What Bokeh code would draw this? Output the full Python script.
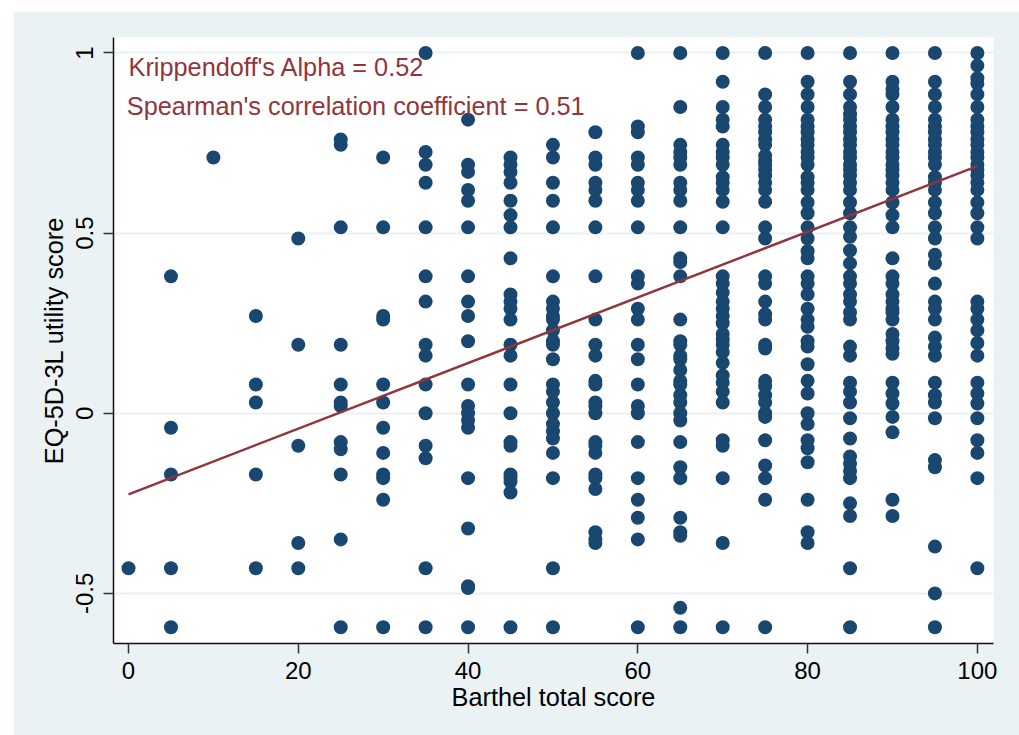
from bokeh.plotting import figure
from bokeh.models import FixedTicker
from bokeh.core.properties import value
from bokeh.embed import file_html
from bokeh.resources import INLINE

y_at_0 = [-.43]
y_at_5 = [.38, -.04, -.17, -.43, -.594]
y_at_10 = [.71]
y_at_15 = [.27, .08, .03, -.17, -.43]
y_at_20 = [.485, .19, -.09, -.36, -.43]
y_at_25 = [.76, .745, .516, .19, .08, .03, .02, -.08, -.10, -.17, -.35, -.594]
y_at_30 = [.71, .516, .27, .26, .08, .03, -.04, -.11, -.17, -.18, -.24, -.594]
y_at_35 = [1, .725, .69, .64, .516, .38, .31, .19, .16, .08, .0, -.09, -.125, -.43, -.594]
y_at_40 = [.815, .69, .67, .62, .59, .516, .38, .31, .27, .2, .08, .02, 0, -.02, -.04, -.18, -.32, -.48, -.485, -.594]
y_at_45 = [.71, .69, .67, .64, .59, .55, .516, .43, .33, .31, .29, .26, .19, .16, .08, 0, -.08, -.09, -.17, -.18, -.19, -.22, -.594]
y_at_50 = [.745, .71, .64, .59, .516, .38, .31, .29, .27, .26, .23, .2, .19, .15, .08, .06, .03, 0, -.03, -.05, -.07, -.11, -.18, -.43, -.594]
y_at_55 = [.78, .71, .69, .64, .62, .59, .516, .38, .26, .19, .16, .09, .08, .03, .02, 0, -.08, -.09, -.11, -.17, -.18, -.21, -.33, -.35, -.36]
y_at_60 = [1, .796, .78, .71, .69, .64, .62, .59, .516, .38, .36, .29, .26, .19, .15, .08, .02, 0, -.08, -.18, -.24, -.29, -.35, -.594]
y_at_65 = [1, .85, .745, .725, .71, .69, .64, .62, .59, .516, .43, .42, .38, .26, .2, .19, .16, .15, .12, .09, .08, .05, .03, 0, -.02, -.08, -.15, -.18, -.29, -.33, -.34, -.54, -.594]
y_at_70 = [1, .92, .85, .815, .796, .745, .725, .71, .69, .655, .64, .62, .587, .516, .38, .36, .335, .31, .29, .27, .25, .22, .205, .19, .17, .14, .105, .085, .06, .03, -.075, -.09, -.18, -.36, -.594]
y_at_75 = [1, .885, .85, .815, .796, .78, .76, .745, .715, .70, .69, .676, .66, .64, .62, .587, .516, .485, .38, .36, .31, .275, .26, .19, .18, .09, .075, .05, .03, 0, -.01, -.075, -.145, -.18, -.24, -.594]
y_at_80 = [1, .92, .885, .85, .815, .796, .78, .76, .745, .725, .71, .69, .655, .64, .62, .585, .555, .516, .485, .45, .43, .38, .36, .33, .29, .26, .24, .2, .185, .136, .09, .055, 0, -.03, -.075, -.097, -.136, -.24, -.33, -.36]
y_at_85 = [1, .92, .885, .85, .83, .815, .796, .78, .76, .745, .725, .71, .69, .676, .66, .64, .62, .585, .555, .516, .49, .452, .416, .38, .36, .33, .31, .28, .26, .185, .16, .085, .06, .03, -.014, -.07, -.12, -.14, -.16, -.18, -.25, -.285, -.43, -.594]
y_at_90 = [1, .92, .9, .885, .85, .815, .796, .78, .76, .745, .725, .71, .69, .676, .66, .64, .62, .585, .55, .516, .43, .38, .36, .33, .31, .29, .28, .26, .22, .2, .18, .165, .085, .055, .027, -.01, -.053, -.24, -.285]
y_at_95 = [1, .92, .885, .85, .815, .796, .78, .76, .745, .725, .71, .69, .655, .64, .62, .585, .555, .516, .485, .44, .416, .36, .31, .29, .26, .21, .185, .16, .085, .05, .03, -.014, -.13, -.15, -.37, -.5, -.594]
y_at_100 = [1, .965, .93, .915, .885, .85, .815, .796, .78, .76, .745, .725, .71, .69, .676, .66, .64, .62, .585, .555, .516, .485, .31, .29, .26, .23, .195, .16, .085, .055, .027, -.014, -.075, -.11, -.18, -.43]

score_levels = list(range(0, 105, 5))
columns = [y_at_0, y_at_5, y_at_10, y_at_15, y_at_20, y_at_25, y_at_30, y_at_35, y_at_40, y_at_45, y_at_50,
           y_at_55, y_at_60, y_at_65, y_at_70, y_at_75, y_at_80, y_at_85, y_at_90, y_at_95, y_at_100]

fit_x = [0, 100]
fit_y = [-.225, .686]
x_ticks = [0, 20, 40, 60, 80, 100]
y_ticks = [-.5, 0, .5, 1]
y_tick_labels = {-.5: "-0.5", 0: "0", .5: "0.5", 1: "1"}
x_title = "Barthel total score"
y_title = "EQ-5D-3L utility score"
note_1 = "Krippendoff's Alpha = 0.52"
note_2 = "Spearman's correlation coefficient = 0.51"

BG = "#EAF2F3"
NAVY = "#1A476F"
MAROON = "#90353B"
FONT = "Liberation Sans"

xs = [s for s, col in zip(score_levels, columns) for _ in col]
ys = [v for col in columns for v in col]

p = figure(width=1006, height=724, output_backend="svg", toolbar_location=None,
           x_range=(-1.77, 101.9), y_range=(-.639, 1.043),
           margin=(11, 0, 0, 13))
p.frame_width = 880
p.frame_height = 606
p.min_border_left = 100
p.min_border_right = 26
p.min_border_top = 26
p.min_border_bottom = 92
p.border_fill_color = BG
p.background_fill_color = "white"
p.outline_line_color = None

p.xgrid.visible = False
p.ygrid.ticker = FixedTicker(ticks=y_ticks)
p.ygrid.grid_line_color = BG
p.ygrid.grid_line_width = 2

p.xaxis.ticker = FixedTicker(ticks=x_ticks)
p.yaxis.ticker = FixedTicker(ticks=y_ticks)
p.yaxis.major_label_overrides = y_tick_labels
p.yaxis.major_label_orientation = "vertical"
p.xaxis.axis_label = x_title
p.yaxis.axis_label = y_title
for ax in (p.xaxis[0], p.yaxis[0]):
    ax.axis_line_color = "#111111"
    ax.axis_line_width = 1.5
    ax.major_tick_line_color = "#333333"
    ax.major_tick_line_width = 1.5
    ax.major_tick_out = 10
    ax.major_tick_in = 0
    ax.minor_tick_line_color = None
    ax.major_label_text_font = FONT
    ax.major_label_text_font_size = "24px"
    ax.major_label_text_color = "black"
    ax.axis_label_text_font = FONT
    ax.axis_label_text_font_size = "25.3px"
    ax.axis_label_text_font_style = "normal"
    ax.axis_label_text_color = "black"
p.xaxis[0].major_label_standoff = 8
p.xaxis[0].axis_label_standoff = 1
p.yaxis[0].major_label_standoff = 10
p.yaxis[0].axis_label_standoff = 6

p.scatter(xs, ys, size=14, marker="circle", fill_color=NAVY, line_color=None)
p.line(fit_x, fit_y, line_color=MAROON, line_width=2.4)

p.text(x=[0.0], y=[.96], text=[note_1], text_font=value(FONT), text_font_size="25.3px",
       text_color=MAROON, text_baseline="middle", text_align="left")
p.text(x=[-.2], y=[.852], text=[note_2], text_font=value(FONT), text_font_size="25.3px",
       text_color=MAROON, text_baseline="middle", text_align="left")

open("out.html", "w").write(file_html(p, INLINE))
